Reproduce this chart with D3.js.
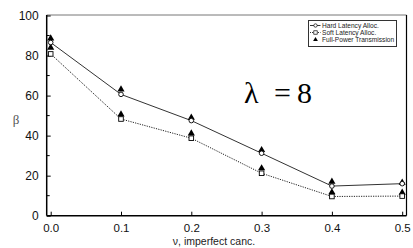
<!DOCTYPE html>
<html>
<head>
<meta charset="utf-8">
<script src="https://cdn.jsdelivr.net/npm/d3@7"></script>
<style>
  body { margin: 0; background: #fff; }
  text { font-family: "Liberation Sans", Arial, sans-serif; }
</style>
</head>
<body>
<script>
let w = 413, h = 248;

// data
let nu = [0.0, 0.1, 0.2, 0.3, 0.4, 0.5];
let hardLatency = [86.5, 60.6, 47.5, 31.2, 14.8, 16.0];
let softLatency = [80.8, 48.3, 38.7, 21.2, 9.6, 9.8];
let fullPowerHard = [88.6, 63.1, 49.0, 32.8, 17.0, 16.5];
let fullPowerSoft = [83.9, 50.6, 41.1, 23.7, 11.7, 11.5];
let xTicks = [0, 0.1, 0.2, 0.3, 0.4, 0.5];
let yTicks = [0, 20, 40, 60, 80, 100];
let yMinor = [10, 30, 50, 70, 90];
let legendNames = ["Hard Latency Alloc.", "Soft Latency Alloc.", "Full-Power Transmission"];

let x = d3.scaleLinear().domain([0, 0.5]).range([50.7, 402.2]);
let y = d3.scaleLinear().domain([0, 100]).range([215.7, 15.5]);
let frame = {left: 46.7, right: 406.5, top: 15, bottom: 215.7};

let svg = d3.select("body").append("svg").attr("width", w).attr("height", h);

// frame: top/right thin, left/bottom axes drawn below
svg.append("line").attr("x1", frame.left).attr("x2", frame.right).attr("y1", frame.top).attr("y2", frame.top)
  .attr("stroke", "#777").attr("stroke-width", 1);
svg.append("line").attr("x1", frame.right).attr("x2", frame.right).attr("y1", frame.top).attr("y2", frame.bottom)
  .attr("stroke", "#000").attr("stroke-width", 1.2);

// y axis
let yAxis = svg.append("g").attr("transform", "translate(" + frame.left + ",0)")
  .call(d3.axisLeft(y).tickValues(yTicks).tickSize(-4).tickPadding(8).tickFormat(d3.format("d")));
yAxis.select(".domain").attr("d", "M0," + frame.top + "V" + frame.bottom).attr("stroke-width", 1.5);
yAxis.selectAll("text").attr("font-size", 12).attr("fill", "#111");
yAxis.selectAll(".minor").data(yMinor).enter().append("line").attr("class", "minor")
  .attr("x1", 0).attr("x2", 3).attr("y1", d => y(d)).attr("y2", d => y(d)).attr("stroke", "#000");

// x axis
let xAxis = svg.append("g").attr("transform", "translate(0," + frame.bottom + ")")
  .call(d3.axisBottom(x).tickValues(xTicks).tickSize(-4).tickPadding(8).tickFormat(d3.format(".1f")));
xAxis.select(".domain").attr("d", "M" + frame.left + ",0H" + frame.right).attr("stroke-width", 1.5);
xAxis.selectAll("text").attr("font-size", 11.5).attr("fill", "#111");

// axis labels
svg.append("text").attr("x", 16).attr("y", 124).attr("text-anchor", "middle")
  .style("font-family", "'Liberation Serif', serif")
  .attr("font-size", 13).style("fill", "#555").text("β");
svg.append("text").attr("x", 214).attr("y", 244.5).attr("text-anchor", "middle")
  .attr("font-size", 10.5).attr("fill", "#222").text("ν, imperfect canc.");

// lines
let line = d3.line().x((d, i) => x(nu[i])).y(d => y(d));
svg.append("path").datum(hardLatency).attr("d", line).attr("fill", "none")
  .attr("stroke", "#333").attr("stroke-width", 1);
svg.append("path").datum(softLatency).attr("d", line).attr("fill", "none")
  .attr("stroke", "#222").attr("stroke-width", 1).attr("stroke-dasharray", "1.2,1.2");

// markers
let tri = d3.symbol().type(d3.symbolTriangle).size(22);
[fullPowerHard, fullPowerSoft].forEach(s => {
  svg.append("g").selectAll("path").data(s).enter().append("path")
    .attr("d", tri).attr("transform", (d, i) => "translate(" + x(nu[i]) + "," + y(d) + ")")
    .attr("fill", "#000");
});
svg.append("g").selectAll("circle").data(hardLatency).enter().append("circle")
  .attr("cx", (d, i) => x(nu[i])).attr("cy", d => y(d)).attr("r", 2.3)
  .attr("fill", "#fff").attr("stroke", "#000").attr("stroke-width", 0.9);
svg.append("g").selectAll("rect").data(softLatency).enter().append("rect")
  .attr("x", (d, i) => x(nu[i]) - 2.3).attr("y", d => y(d) - 2.3).attr("width", 4.6).attr("height", 4.6)
  .attr("fill", "#fff").attr("stroke", "#000").attr("stroke-width", 0.9);

// legend
let lg = svg.append("g");
lg.append("rect").attr("x", 308.5).attr("y", 20.5).attr("width", 88).attr("height", 26)
  .attr("fill", "#fff").attr("stroke", "#333").attr("stroke-width", 1);
let rows = [25.5, 32.5, 39.7];
legendNames.forEach((name, i) => {
  let cy = rows[i];
  if (i < 2) {
    lg.append("line").attr("x1", 310).attr("x2", 320.5).attr("y1", cy).attr("y2", cy)
      .attr("stroke", "#000").attr("stroke-width", 0.8).attr("stroke-dasharray", i == 1 ? "1,1" : null);
  }
  if (i == 0) lg.append("circle").attr("cx", 315.5).attr("cy", cy).attr("r", 1.7)
    .attr("fill", "#fff").attr("stroke", "#000").attr("stroke-width", 0.7);
  if (i == 1) lg.append("rect").attr("x", 313.8).attr("y", cy - 1.7).attr("width", 3.4).attr("height", 3.4)
    .attr("fill", "#fff").attr("stroke", "#000").attr("stroke-width", 0.7);
  if (i == 2) lg.append("path").attr("d", d3.symbol().type(d3.symbolTriangle).size(10))
    .attr("transform", "translate(315.5," + cy + ")").attr("fill", "#000");
  lg.append("text").attr("x", 322).attr("y", cy + 2.3).attr("font-size", 6.6).attr("fill", "#222").text(name);
});

// lambda annotation
let lam = svg.append("text").attr("y", 103).style("font-family", "'Liberation Serif', 'Times New Roman', serif")
  .attr("font-size", 30).attr("fill", "#000");
lam.append("tspan").attr("x", 244).text("λ");
lam.append("tspan").attr("x", 274).text("=");
lam.append("tspan").attr("x", 297).text("8");
</script>
</body>
</html>
